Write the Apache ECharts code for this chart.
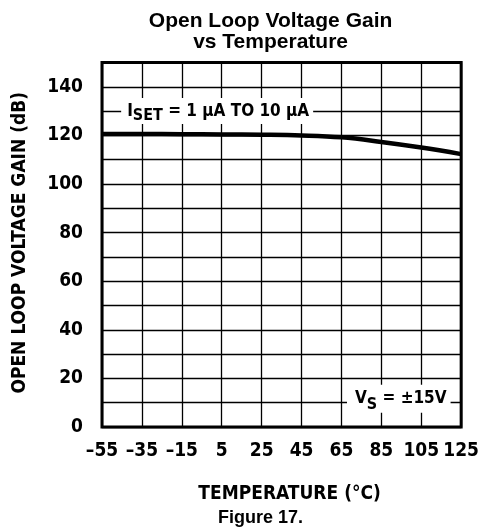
<!DOCTYPE html>
<html>
<head>
<meta charset="utf-8">
<script src="https://cdn.jsdelivr.net/npm/echarts@6/dist/echarts.min.js"></script>
<style>
  html, body { margin: 0; padding: 0; background: #fff; }
  #chart { width: 482px; height: 529px; }
</style>
</head>
<body>
<div id="chart"></div>
<script>
// ---- data ----
const temperatures = ['–55', '–35', '–15', '5', '25', '45', '65', '85', '105', '125'];
const tempValues = [-55, -35, -15, 5, 25, 45, 65, 85, 105, 125];
const gainDb = [120.6, 120.6, 120.5, 120.4, 120.3, 120.0, 119.2, 117.3, 115.0, 112.3];
const yTickLabels = [0, 20, 40, 60, 80, 100, 120, 140];

const NARROW = "'Liberation Sans Narrow', 'DejaVu Sans Condensed', 'Arial Narrow', sans-serif";
const ARIAL = "'Liberation Sans', Arial, Helvetica, sans-serif";

const chart = echarts.init(document.getElementById('chart'), null, { renderer: 'canvas' });

const option = {
  backgroundColor: '#fff',
  animation: false,
  grid: {
    left: 102, right: 19.3, top: 62.5, bottom: 102,
    show: true, borderColor: '#000', borderWidth: 3, backgroundColor: 'transparent'
  },
  xAxis: {
    type: 'category',
    data: temperatures,
    boundaryGap: false,
    axisLine: { show: false },
    axisTick: { show: false },
    axisLabel: {
      interval: 0, margin: 15, color: '#000',
      fontFamily: NARROW, fontWeight: 'bold', fontSize: 19
    },
    splitLine: { show: true, interval: 0, lineStyle: { color: '#000', width: 1.3 } }
  },
  yAxis: {
    type: 'value',
    min: 0, max: 150, interval: 10,
    axisLine: { show: false },
    axisTick: { show: false },
    axisLabel: {
      margin: 19, color: '#000',
      fontFamily: NARROW, fontWeight: 'bold', fontSize: 19,
      formatter: v => (yTickLabels.indexOf(v) >= 0 ? String(v) : '')
    },
    splitLine: { show: true, lineStyle: { color: '#000', width: 1.3 } }
  },
  series: [{
    type: 'line',
    data: gainDb,
    smooth: 0.4,
    symbol: 'none',
    lineStyle: { color: '#000', width: 4.5 },
    z: 5
  }]
};
chart.setOption(option);

// positions from the library's scales
const px = (i, v) => chart.convertToPixel({ gridIndex: 0 }, [i, v]);
const xL = px(0, 0)[0], xR = px(temperatures.length - 1, 0)[0];
const tMin = tempValues[0], tMax = tempValues[tempValues.length - 1];
const xAt = t => xL + (t - tMin) / (tMax - tMin) * (xR - xL);
const yAt = v => px(0, v)[1];
const plotMidX = (xL + xR) / 2;
const plotMidY = (yAt(0) + yAt(150)) / 2;

const richBase = {
  a: { fontFamily: NARROW, fontWeight: 'bold', fontSize: 17, fill: '#000', color: '#000' },
  s: { fontFamily: NARROW, fontWeight: 'bold', fontSize: 16, fill: '#000', color: '#000', padding: [10, 0, 0, 0] },
  s2: { fontFamily: NARROW, fontWeight: 'bold', fontSize: 16, fill: '#000', color: '#000', padding: [12, 0, 0, 0] }
};

chart.setOption({
  graphic: [
    {
      type: 'text', z: 100,
      x: plotMidX - 11, y: 21.5,
      style: { text: 'Open Loop Voltage Gain', font: "bold 21px " + ARIAL, fill: '#000', align: 'center', verticalAlign: 'middle' }
    },
    {
      type: 'text', z: 100,
      x: plotMidX - 11, y: 42,
      style: { text: 'vs Temperature', font: "bold 21px " + ARIAL, fill: '#000', align: 'center', verticalAlign: 'middle' }
    },
    {
      type: 'text', z: 100,
      x: 20, y: plotMidY - 2, rotation: Math.PI / 2,
      style: { text: 'OPEN LOOP VOLTAGE GAIN (dB)', font: "bold 19px " + NARROW, fill: '#000', align: 'center', verticalAlign: 'middle' }
    },
    {
      type: 'text', z: 100,
      x: plotMidX + 8, y: 494,
      style: { text: 'TEMPERATURE (°C)', font: "bold 19px " + NARROW, fill: '#000', align: 'center', verticalAlign: 'middle' }
    },
    {
      type: 'text', z: 100,
      x: plotMidX - 21, y: 518.5,
      style: { text: 'Figure 17.', font: "bold 18px " + ARIAL, fill: '#000', align: 'center', verticalAlign: 'middle' }
    },
    {
      type: 'text', z: 100,
      x: xAt(-45.4), y: yAt(130),
      style: {
        text: '{a|I}{s|SET}{a| = 1 μA TO 10 μA}',
        rich: richBase,
        align: 'left', verticalAlign: 'middle',
        backgroundColor: '#fff', padding: [0, 4, 0, 6]
      }
    },
    {
      type: 'text', z: 100,
      x: xAt(119.7), y: yAt(10) - 4,
      style: {
        text: '{a|V}{s2|S}{a| = ±15V}',
        rich: richBase,
        align: 'right', verticalAlign: 'middle',
        backgroundColor: '#fff', padding: [0, 4, 0, 8]
      }
    }
  ]
});
</script>
</body>
</html>
